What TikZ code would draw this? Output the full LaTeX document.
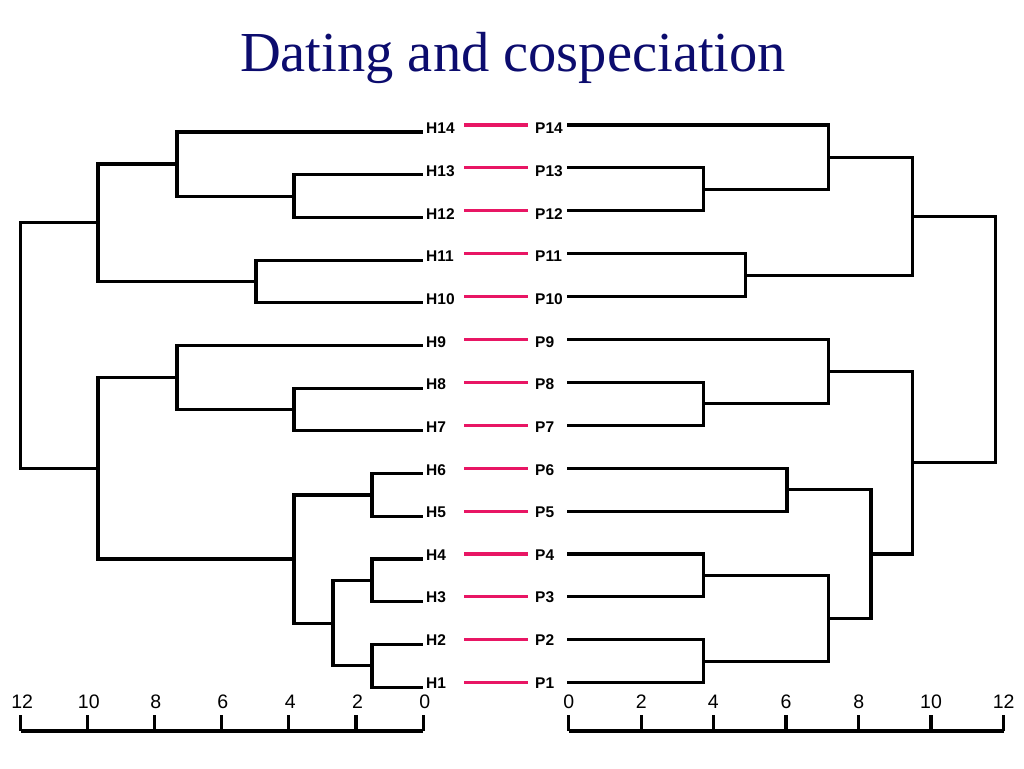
\documentclass[tikz,border=0pt]{standalone}
\usepackage{fontspec}
\setmainfont{Liberation Serif}
\newfontfamily\arialf{Liberation Sans}
\definecolor{titleblue}{RGB}{12,12,110}
\definecolor{assocpink}{RGB}{232,22,100}
\begin{document}
\begin{tikzpicture}[x=1pt,y=-1pt,
  branch/.style={line width=3.1pt},
  axisline/.style={line width=3.1pt},
  assoc/.style={line width=3.1pt,draw=assocpink},
  lab/.style={font=\arialf\bfseries\fontsize{15.5}{15.5}\selectfont,inner sep=0pt},
  axlab/.style={font=\arialf\fontsize{19.5}{19.5}\selectfont,inner sep=0pt},
  titlestyle/.style={font=\fontsize{56.5}{56.5}\selectfont,text=titleblue,inner sep=0pt}]
\useasboundingbox (0,0) rectangle (1024,768);
% title
\node[titlestyle,anchor=base] (title) at (513,71.7) {Dating and cospeciation};
% leaves, labels, associations
\foreach \i in {1,...,14}{
  \pgfmathsetmacro{\yl}{132+(14-\i)*42.7}
  \pgfmathsetmacro{\yr}{125+(14-\i)*42.9}
  \pgfmathsetmacro{\yt}{128.5+(14-\i)*42.65}
  \coordinate (hl\i) at (423,\yl);
  \coordinate (pl\i) at (567,\yr);
  \node[lab,anchor=west] (h\i) at (426,\yt) {H\i};
  \node[lab,anchor=west] (p\i) at (535,\yt) {P\i};
  \coordinate (asA\i) at (464,\yr);
  \coordinate (asB\i) at (528,\yr);
  \draw[assoc] (asA\i) -- (asB\i);
}
% left (host) tree internal nodes
\coordinate (lC) at (294,196.05);
\coordinate (lB) at (177,164);
\coordinate (lD) at (256,281.45);
\coordinate (lA) at (98,222.7);
\coordinate (lE) at (294,409.55);
\coordinate (lF) at (177,377.5);
\coordinate (lG) at (372,494.95);
\coordinate (lH) at (372,580.35);
\coordinate (lI) at (372,665.75);
\coordinate (lJ) at (333,623.05);
\coordinate (lK) at (294,559);
\coordinate (lL) at (98,468.25);
\coordinate (lR) at (20.7,345.5);
\foreach \p/\c in {lR/lA,lR/lL,lA/lB,lA/lD,lB/hl14,lB/lC,lC/hl13,lC/hl12,lD/hl11,lD/hl10,
                   lL/lF,lL/lK,lF/hl9,lF/lE,lE/hl8,lE/hl7,lK/lG,lK/lJ,lG/hl6,lG/hl5,
                   lJ/lH,lJ/lI,lH/hl4,lH/hl3,lI/hl2,lI/hl1}
  \draw[branch] (\p) |- (\c);
% right (parasite) tree internal nodes
\coordinate (rC) at (703.7,189.35);
\coordinate (rB) at (828.7,157.2);
\coordinate (rD) at (745.7,275.15);
\coordinate (rA) at (912.3,216.2);
\coordinate (rE) at (703.7,403.85);
\coordinate (rF) at (828.7,371.7);
\coordinate (rG) at (787,489.65);
\coordinate (rH) at (703.7,575.45);
\coordinate (rI) at (703.7,661.25);
\coordinate (rJ) at (828.7,618.35);
\coordinate (rK) at (871,554);
\coordinate (rL) at (912.3,462.85);
\coordinate (rR) at (995.7,339.5);
\foreach \p/\c in {rR/rA,rR/rL,rA/rB,rA/rD,rB/pl14,rB/rC,rC/pl13,rC/pl12,rD/pl11,rD/pl10,
                   rL/rF,rL/rK,rF/pl9,rF/rE,rE/pl8,rE/pl7,rK/rG,rK/rJ,rG/pl6,rG/pl5,
                   rJ/rH,rJ/rI,rH/pl4,rH/pl3,rI/pl2,rI/pl1}
  \draw[branch] (\p) |- (\c);
% left axis
\coordinate (axL0) at (423.3,731);
\coordinate (axL12) at (20.7,731);
\draw[axisline] (axL12) -- (axL0);
\foreach \v/\x in {0/423.3,2/356,4/288.7,6/221.3,8/154.3,10/87.3,12/20.7}{
  \coordinate (tl\v) at (\x,715);
  \coordinate (bl\v) at (\x,731);
  \draw[axisline] (tl\v) -- (bl\v);
  \node[axlab] (al\v) at (\x+1.5,702) {\v};
}
% right axis
\coordinate (axR0) at (568.7,731);
\coordinate (axR12) at (1003.7,731);
\draw[axisline] (axR0) -- (axR12);
\foreach \v/\x in {0/568.7,2/641.3,4/713.3,6/786,8/858.7,10/931,12/1003.7}{
  \coordinate (tr\v) at (\x,715);
  \coordinate (br\v) at (\x,731);
  \draw[axisline] (tr\v) -- (br\v);
  \node[axlab] (ar\v) at (\x,702) {\v};
}
\end{tikzpicture}
\end{document}
